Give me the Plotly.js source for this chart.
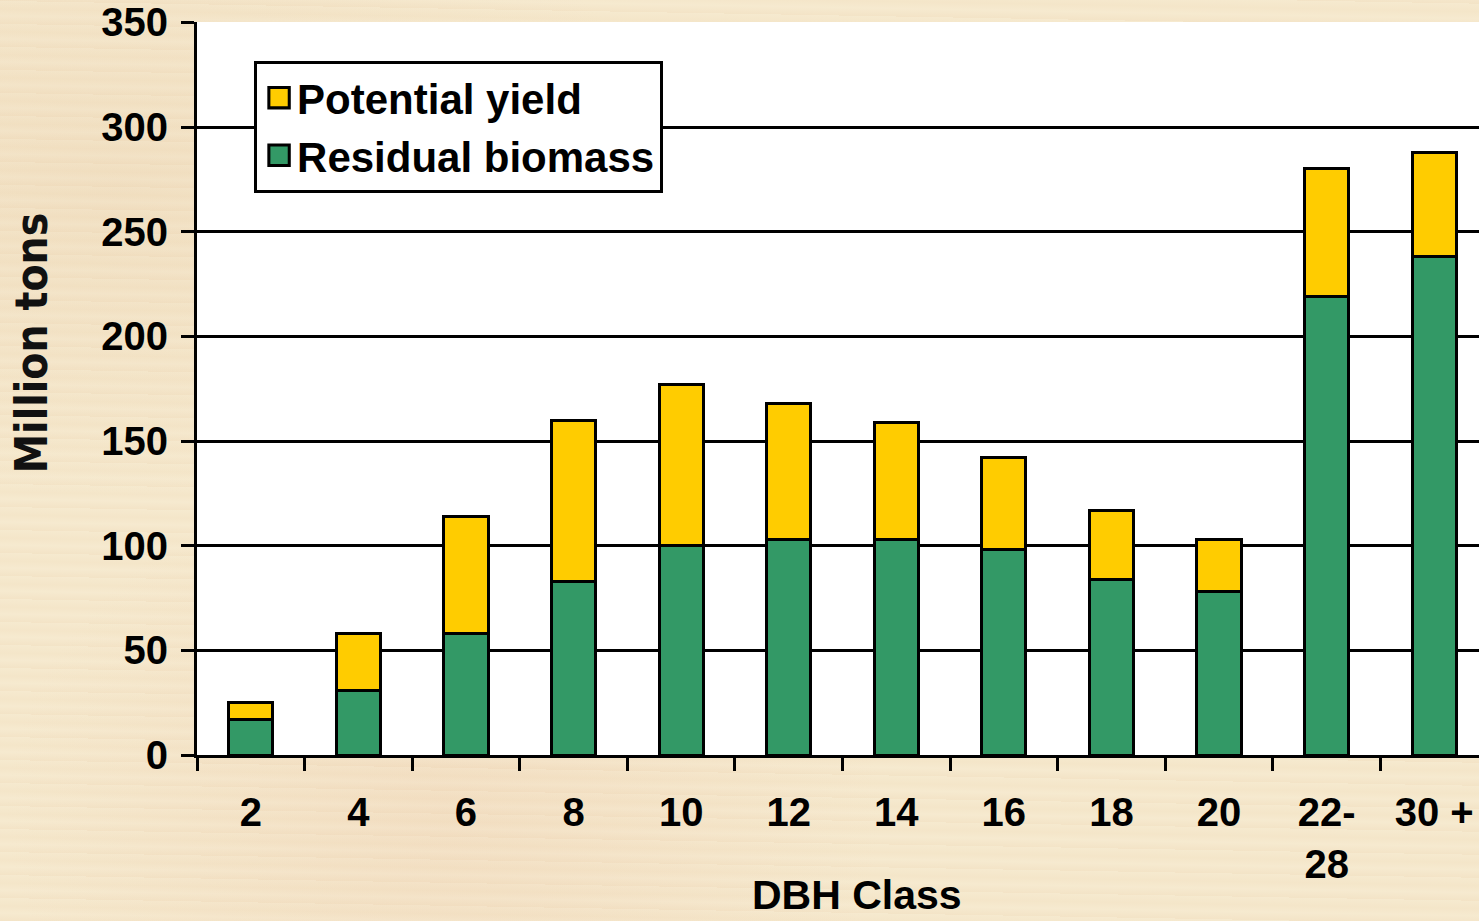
<!DOCTYPE html>
<html>
<head>
<meta charset="utf-8">
<script src="https://cdn.plot.ly/plotly-3.0.1.min.js"></script>
<style>
html, body { margin:0; padding:0; width:1479px; height:921px; overflow:hidden; }
body {
  background-color:#f5e8cc;
  background-image:
    repeating-linear-gradient(1deg, rgba(232,200,165,0.14) 0px, rgba(255,250,238,0.10) 8px, rgba(238,212,178,0.12) 15px, rgba(255,252,240,0.08) 23px),
    radial-gradient(ellipse at 8% 20%, rgba(232,205,170,0.35), rgba(0,0,0,0) 30%),
    radial-gradient(ellipse at 30% 88%, rgba(236,200,170,0.30), rgba(0,0,0,0) 30%);
}
#chart { width:1488px; height:921px; }
</style>
</head>
<body>
<div id="chart"></div>
<script>
const categories = ['2','4','6','8','10','12','14','16','18','20','22-<br>28','30 +'];
const residualBiomass = [17, 31, 58, 83, 100, 103, 103, 98, 84, 78, 219, 238];
const potentialYield  = [8, 27, 56, 77, 77, 65, 56, 44, 33, 25, 61, 50];
const yTicks = [0, 50, 100, 150, 200, 250, 300, 350];

const GREEN = '#339966', YELLOW = '#FFCC00';
const ARIAL = 'Liberation Sans, Arial, sans-serif';

const traces = [
  {type:'bar', name:'Residual biomass', x:categories, y:residualBiomass,
   marker:{color:GREEN, line:{color:'#000', width:3}}},
  {type:'bar', name:'Potential yield', x:categories, y:potentialYield,
   marker:{color:YELLOW, line:{color:'#000', width:3}}}
];

const layout = {
  width:1488, height:921,
  margin:{l:197, r:0, t:22, b:166, pad:0},
  paper_bgcolor:'rgba(0,0,0,0)',
  plot_bgcolor:'#ffffff',
  barmode:'stack',
  bargap:0.59,
  font:{family:ARIAL, color:'#000'},
  showlegend:true,
  legend:{x:0.0442, y:0.947, xanchor:'left', yanchor:'top',
    bgcolor:'#ffffff', bordercolor:'#000', borderwidth:3,
    font:{family:ARIAL, size:42, color:'#000', weight:'bold'},
    traceorder:'reversed'},
  xaxis:{type:'category', tickson:'boundaries', ticks:'outside', ticklen:13, tickwidth:3, tickcolor:'#000',
    showline:true, linecolor:'#000', linewidth:3, showgrid:false, zeroline:false,
    tickfont:{family:ARIAL, size:40, color:'#000', weight:'bold'}, ticklabelstandoff:20,
    fixedrange:true},
  yaxis:{range:[0,350.2], tickvals:yTicks, ticktext:yTicks.map(String), ticks:'outside', ticklen:13, tickwidth:3, tickcolor:'#000',
    showline:true, linecolor:'#000', linewidth:3, showgrid:true, gridcolor:'#000', gridwidth:3, zeroline:false,
    tickfont:{family:ARIAL, size:40, color:'#000', weight:'bold'}, ticklabelstandoff:5,
    fixedrange:true},
  annotations:[
    {text:'Million tons', xref:'paper', yref:'paper', x:-0.1284, y:0.562, xanchor:'center', yanchor:'middle',
     textangle:-90, showarrow:false,
     font:{family:'DejaVu Sans Condensed, DejaVu Sans, sans-serif', size:44, color:'#111', weight:'bold'}},
    {text:'DBH Class', xref:'paper', yref:'paper', x:0.511, y:-0.191, xanchor:'center', yanchor:'middle',
     showarrow:false, font:{family:ARIAL, size:41, color:'#000', weight:'bold'}}
  ]
};

Plotly.newPlot('chart', traces, layout, {displayModeBar:false, staticPlot:true}).then(function(gd){
  gd.querySelectorAll('.legend .legendpoints path').forEach(function(p){
    p.setAttribute('transform', 'translate(22,0) scale(1.7)');
    p.style.strokeWidth = '1.8px';
  });
});
</script>
</body>
</html>
